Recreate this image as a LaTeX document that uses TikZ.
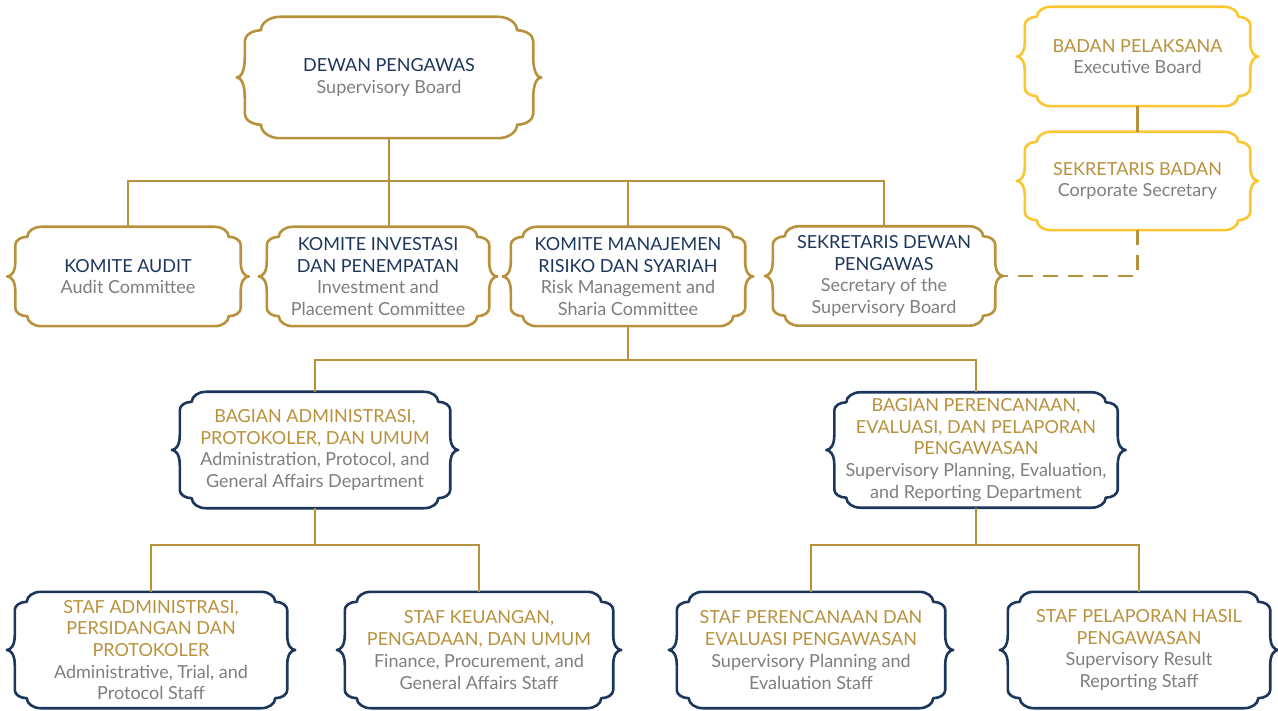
\documentclass[tikz,border=0pt]{standalone}
\usepackage{fontspec}
\setmainfont{Lato}
\usepackage{xcolor}
\usetikzlibrary{calc}
\definecolor{gold}{HTML}{B8913C}
\definecolor{navy}{HTML}{1D365C}
\definecolor{sun}{HTML}{FAC631}
\definecolor{textgrey}{HTML}{7E7E7E}
\newcommand{\nv}[1]{\textcolor{navy}{#1}}
\newcommand{\gd}[1]{\textcolor{gold}{#1}}
\newcommand{\ornframe}[3][1]{%
  \pgfmathsetlengthmacro\oa{#1*12pt}%
  \pgfmathsetlengthmacro\ob{#1*10pt}%
  \pgfmathsetlengthmacro\oc{#1*26pt}%
  \pgfmathsetlengthmacro\od{#1*18pt}%
  \pgfmathsetlengthmacro\oe{#1*15pt}%
  \pgfmathsetlengthmacro\ot{8pt}%
  \draw[frame style,#3] let \p1=(#2.north west), \p2=(#2.south east), \p3=(#2.east) in
    (\x1+\oc,\y1) -- (\x2-\oc,\y1)
    .. controls (\x2-0.45*\oc-0.55*\oa,\y1) and (\x2-\oa,\y1-0.45*\ob) .. (\x2-\oa,\y1-\ob)
    .. controls (\x2-0.45*\oa,\y1-\ob) and (\x2,\y1-0.45*\od-0.55*\ob) .. (\x2,\y1-\od)
    -- (\x2,\y3+\oe)
    .. controls (\x2,\y3+0.3*\oe) and (\x2+0.5*\ot,\y3) .. (\x2+\ot,\y3)
    .. controls (\x2+0.5*\ot,\y3) and (\x2,\y3-0.3*\oe) .. (\x2,\y3-\oe)
    -- (\x2,\y2+\od)
    .. controls (\x2,\y2+0.45*\od+0.55*\ob) and (\x2-0.45*\oa,\y2+\ob) .. (\x2-\oa,\y2+\ob)
    .. controls (\x2-\oa,\y2+0.45*\ob) and (\x2-0.45*\oc-0.55*\oa,\y2) .. (\x2-\oc,\y2)
    -- (\x1+\oc,\y2)
    .. controls (\x1+0.45*\oc+0.55*\oa,\y2) and (\x1+\oa,\y2+0.45*\ob) .. (\x1+\oa,\y2+\ob)
    .. controls (\x1+0.45*\oa,\y2+\ob) and (\x1,\y2+0.45*\od+0.55*\ob) .. (\x1,\y2+\od)
    -- (\x1,\y3-\oe)
    .. controls (\x1,\y3-0.3*\oe) and (\x1-0.5*\ot,\y3) .. (\x1-\ot,\y3)
    .. controls (\x1-0.5*\ot,\y3) and (\x1,\y3+0.3*\oe) .. (\x1,\y3+\oe)
    -- (\x1,\y1-\od)
    .. controls (\x1,\y1-0.45*\od-0.55*\ob) and (\x1+0.45*\oa,\y1-\ob) .. (\x1+\oa,\y1-\ob)
    .. controls (\x1+\oa,\y1-0.45*\ob) and (\x1+0.45*\oc+0.55*\oa,\y1) .. cycle;}
\begin{document}
\begin{tikzpicture}[x=1pt,y=-1pt]
    \tikzset{box style/.style = {rectangle, inner sep=0pt, align=center, text=textgrey,
            font=\fontsize{18}{21.7}\selectfont},
        frame style/.style = {line width=2.6pt, line join=round},
        link style/.style = {gold, line width=2.6pt}}
    \useasboundingbox (0,0) rectangle (1278,711);
    \node[box style, minimum width=288, minimum height=121] (dewan) at (389,77.5)
        {\nv{DEWAN PENGAWAS}\\Supervisory Board};
    \node[box style, minimum width=225, minimum height=99] (badan) at (1137.5,56.5)
        {\gd{BADAN PELAKSANA}\\Executive Board};
    \node[box style, minimum width=225, minimum height=98] (sekbadan) at (1137.5,181)
        {\gd{SEKRETARIS BADAN}\\Corporate Secretary};
    \node[box style, minimum width=225, minimum height=99] (audit) at (128,276.5)
        {\nv{KOMITE AUDIT}\\Audit Committee};
    \node[box style, minimum width=222, minimum height=99] (invest) at (378,276.5)
        {\nv{KOMITE INVESTASI}\\\nv{DAN PENEMPATAN}\\Investment and\\Placement Committee};
    \node[box style, minimum width=234, minimum height=99] (risiko) at (628,276.5)
        {\nv{KOMITE MANAJEMEN}\\\nv{RISIKO DAN SYARIAH}\\Risk Management and\\Sharia Committee};
    \node[box style, minimum width=222, minimum height=99] (sekdewan) at (884,276)
        {\nv{SEKRETARIS DEWAN}\\\nv{PENGAWAS}\\Secretary of the\\Supervisory Board};
    \node[box style, minimum width=270, minimum height=116] (admin) at (315,450)
        {\gd{BAGIAN ADMINISTRASI,}\\\gd{PROTOKOLER, DAN UMUM}\\Administration, Protocol, and\\General Affairs Department};
    \node[box style, minimum width=283, minimum height=115] (rencana) at (976,450)
        {\gd{BAGIAN PERENCANAAN,}\\\gd{EVALUASI, DAN PELAPORAN}\\\gd{PENGAWASAN}\\Supervisory Planning, Evaluation,\\and Reporting Department};
    \node[box style, minimum width=272, minimum height=116] (stafadm) at (151,650)
        {\gd{STAF ADMINISTRASI,}\\\gd{PERSIDANGAN DAN}\\\gd{PROTOKOLER}\\Administrative, Trial, and\\Protocol Staff};
    \node[box style, minimum width=268, minimum height=116] (stafkeu) at (479,650)
        {\gd{STAF KEUANGAN,}\\\gd{PENGADAAN, DAN UMUM}\\Finance, Procurement, and\\General Affairs Staff};
    \node[box style, minimum width=268, minimum height=116] (stafren) at (811,650)
        {\gd{STAF PERENCANAAN DAN}\\\gd{EVALUASI PENGAWASAN}\\Supervisory Planning and\\Evaluation Staff};
    \node[box style, minimum width=262, minimum height=116] (staflap) at (1139,650)
        {\gd{STAF PELAPORAN HASIL}\\\gd{PENGAWASAN}\\Supervisory Result\\Reporting Staff};
    \ornframe[1.35]{dewan}{gold}
    \ornframe{badan}{sun}
    \ornframe{sekbadan}{sun}
    \ornframe{audit}{gold}
    \ornframe{invest}{gold}
    \ornframe{risiko}{gold}
    \ornframe{sekdewan}{gold}
    \ornframe{admin}{navy}
    \ornframe{rencana}{navy}
    \ornframe{stafadm}{navy}
    \ornframe{stafkeu}{navy}
    \ornframe{stafren}{navy}
    \ornframe{staflap}{navy}
    \coordinate (bar1) at (0,181);
    \coordinate (bar2) at (0,360);
    \coordinate (bar3) at (0,545);
    \draw[link style] (dewan.south) -- (dewan.south |- invest.north);
    \draw[link style] (audit.north) -- (audit.north |- bar1) -- (sekdewan.north |- bar1) -- (sekdewan.north);
    \draw[link style] (risiko.north) -- (risiko.north |- bar1);
    \draw[link style] (badan.south) -- (sekbadan.north);
    \draw[link style, dash pattern=on 15pt off 10pt] (sekbadan.south) |- ([xshift=8pt]sekdewan.east);
    \draw[link style] (risiko.south) -- (risiko.south |- bar2);
    \draw[link style] (admin.north) -- (admin.north |- bar2) -- (rencana.north |- bar2) -- (rencana.north);
    \draw[link style] (admin.south) -- (admin.south |- bar3);
    \draw[link style] (stafadm.north) -- (stafadm.north |- bar3) -- (stafkeu.north |- bar3) -- (stafkeu.north);
    \draw[link style] (rencana.south) -- (rencana.south |- bar3);
    \draw[link style] (stafren.north) -- (stafren.north |- bar3) -- (staflap.north |- bar3) -- (staflap.north);
\end{tikzpicture}
\end{document}
